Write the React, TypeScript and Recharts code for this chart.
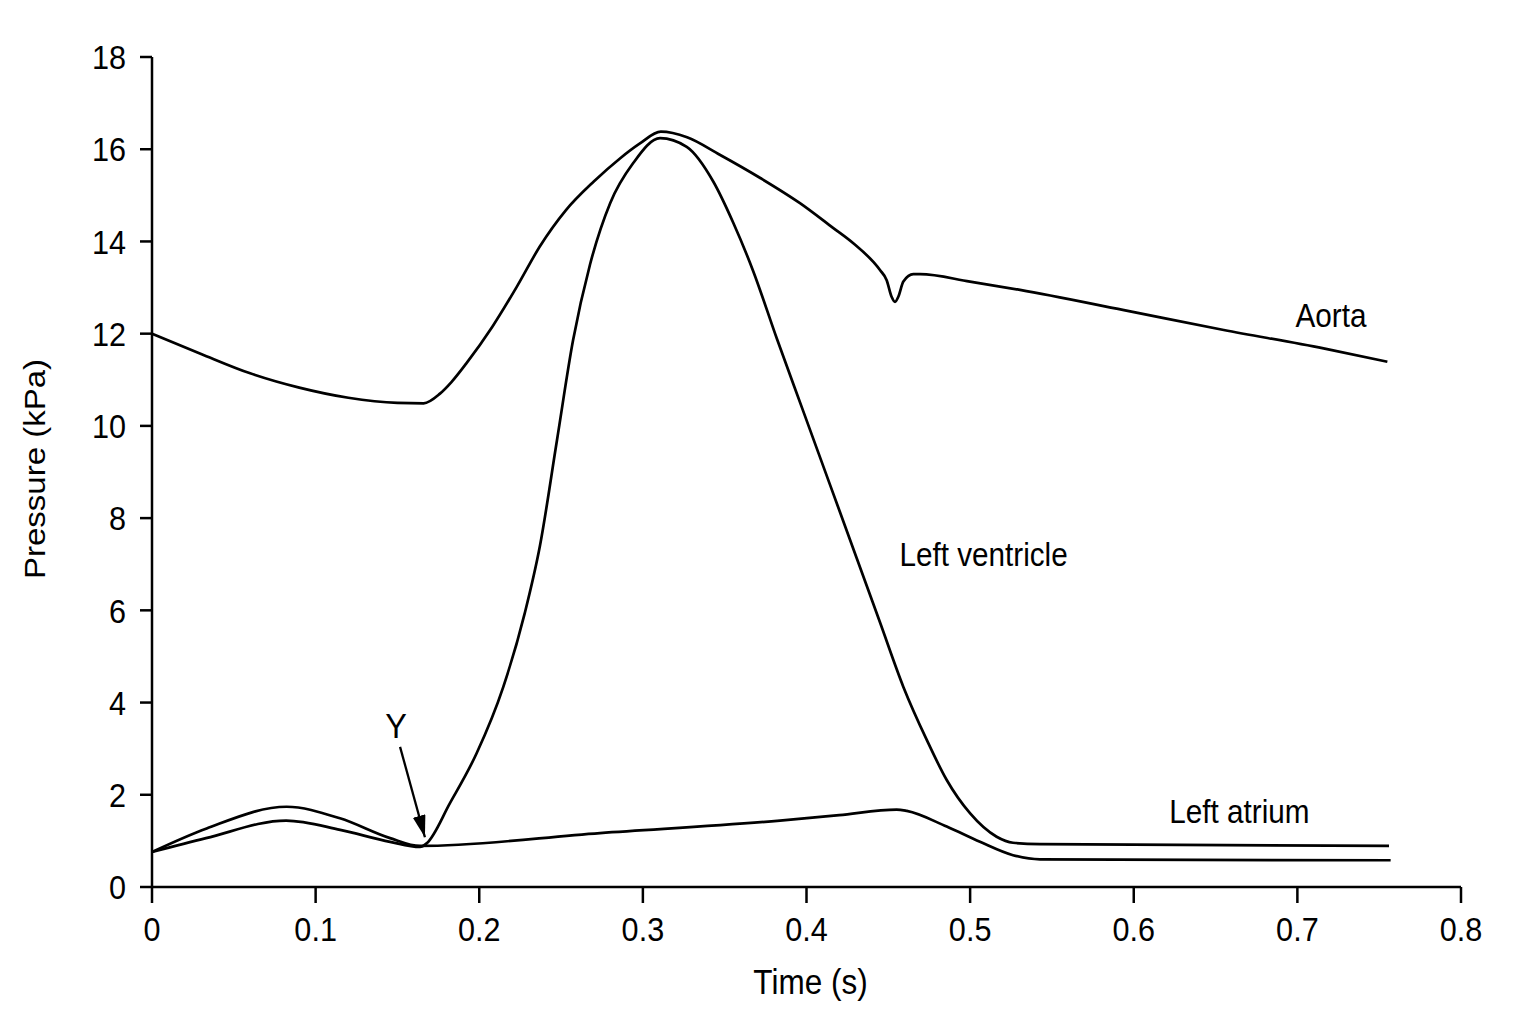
import React from "react";
import { LineChart, Line, XAxis, YAxis, ReferenceDot } from "recharts";

// ---- data (time in s, pressure in kPa) ----
const aortaTime = [0, 0.03, 0.06, 0.09, 0.12, 0.15, 0.166, 0.176, 0.183, 0.192, 0.208, 0.223, 0.237, 0.253, 0.27, 0.286, 0.298, 0.311, 0.327, 0.347, 0.372, 0.396, 0.416, 0.4286, 0.4449, 0.449, 0.452, 0.4541, 0.4561, 0.4592, 0.4653, 0.4694, 0.4999, 0.5305, 0.594, 0.655, 0.716, 0.755];
const aortaPressure = [12.0, 11.56, 11.14, 10.83, 10.61, 10.5, 10.49, 10.7, 10.95, 11.35, 12.15, 13.02, 13.89, 14.68, 15.3, 15.8, 16.12, 16.38, 16.26, 15.88, 15.37, 14.83, 14.3, 13.96, 13.38, 13.16, 12.8, 12.69, 12.8, 13.13, 13.29, 13.29, 13.13, 12.95, 12.51, 12.08, 11.68, 11.39];

const ventricleTime = [0, 0.033, 0.082, 0.115, 0.1455, 0.1638, 0.1679, 0.1821, 0.1984, 0.2147, 0.2279, 0.2371, 0.2475, 0.2573, 0.2677, 0.28, 0.2941, 0.3105, 0.3268, 0.343, 0.3553, 0.3675, 0.3818, 0.398, 0.4144, 0.4307, 0.4449, 0.4592, 0.4735, 0.4857, 0.4999, 0.5162, 0.5262, 0.5427, 0.756];
const ventriclePressure = [0.76, 1.06, 1.44, 1.24, 0.98, 0.87, 0.95, 1.82, 2.9, 4.34, 5.95, 7.4, 9.69, 11.85, 13.5, 14.83, 15.7, 16.24, 16.05, 15.3, 14.4, 13.35, 11.9, 10.32, 8.72, 7.13, 5.74, 4.34, 3.19, 2.32, 1.6, 1.09, 0.96, 0.93, 0.89];

const atriumTime = [0, 0.0334, 0.0823, 0.1149, 0.1455, 0.1638, 0.2738, 0.3838, 0.42, 0.4551, 0.4613, 0.4857, 0.506, 0.5262, 0.5427, 0.757];
const atriumPressure = [0.76, 1.27, 1.74, 1.49, 1.06, 0.89, 1.17, 1.44, 1.56, 1.68, 1.65, 1.31, 0.98, 0.69, 0.6, 0.58];

const arrowTime = [0.1516, 0.1668];
const arrowPressure = [3.04, 1.08];

const xTicks = [0, 0.1, 0.2, 0.3, 0.4, 0.5, 0.6, 0.7, 0.8];
const xTickLabels = ["0", "0.1", "0.2", "0.3", "0.4", "0.5", "0.6", "0.7", "0.8"];
const yTicks = [0, 2, 4, 6, 8, 10, 12, 14, 16, 18];
const yTickLabels = ["0", "2", "4", "6", "8", "10", "12", "14", "16", "18"];

const seriesLabels = [
  { text: "Aorta", t: 0.7205, p: 12.38 },
  { text: "Left ventricle", t: 0.5082, p: 7.2 },
  { text: "Left atrium", t: 0.6646, p: 1.63 },
];
const pointLabel = { text: "Y", t: 0.1491, p: 3.51 };

const zip = (ts: number[], ps: number[]) => ts.map((t, i) => ({ t, p: ps[i] }));
const aortaData = zip(aortaTime, aortaPressure);
const ventricleData = zip(ventricleTime, ventriclePressure);
const atriumData = zip(atriumTime, atriumPressure);
const arrowData = zip(arrowTime, arrowPressure);

const FONT = "'Liberation Sans', Arial, Helvetica, sans-serif";
const SQUEEZE = 0.9;

const textShape = (text: string, size: number) => (props: any) => (
  <g transform={`translate(${props.cx} ${props.cy}) scale(${SQUEEZE} 1)`}>
    <text x={0} y={0} textAnchor="middle" dominantBaseline="central" fontSize={size} fontFamily={FONT} fill="#000">
      {text}
    </text>
  </g>
);

const XTick = (props: any) => {
  const { x, y, payload } = props;
  const i = xTicks.indexOf(payload.value);
  return (
    <g transform={`translate(${x} ${y}) scale(${SQUEEZE} 1)`}>
      <text x={0} y={0} dy="0.71em" textAnchor="middle" fontSize={34} fontFamily={FONT} fill="#000">
        {i >= 0 ? xTickLabels[i] : String(payload.value)}
      </text>
    </g>
  );
};

const YTick = (props: any) => {
  const { x, y, payload } = props;
  const i = yTicks.indexOf(payload.value);
  return (
    <g transform={`translate(${x} ${y}) scale(${SQUEEZE} 1)`}>
      <text x={0} y={0} dy="0.36em" textAnchor="end" fontSize={34} fontFamily={FONT} fill="#000">
        {i >= 0 ? yTickLabels[i] : String(payload.value)}
      </text>
    </g>
  );
};

export default function App() {
  return (
    <div style={{ width: 1520, height: 1008, background: "#fff" }}>
      <LineChart width={1520} height={1008} margin={{ top: 49, right: 67, bottom: 29, left: 0 }}>
        <defs>
          <marker
            id="arrowY"
            viewBox="0 0 22 13"
            refX="22"
            refY="6.5"
            markerWidth="22"
            markerHeight="13"
            markerUnits="userSpaceOnUse"
            orient="auto"
          >
            <path d="M0,0 L22,6.5 L0,13 z" fill="#000" />
          </marker>
        </defs>
        <XAxis
          type="number"
          dataKey="t"
          domain={[0, 0.8]}
          ticks={xTicks}
          height={100}
          axisLine={{ stroke: "#000", strokeWidth: 2.5 }}
          tickLine={{ stroke: "#000", strokeWidth: 2.5 }}
          tickSize={16}
          tickMargin={14}
          tick={XTick}
          label={{
            content: (props: any) => {
              const vb = props.viewBox;
              const cx = vb.x + vb.width / 2 + 4;
              const cy = vb.y + 95;
              return (
                <g transform={`translate(${cx} ${cy}) scale(${SQUEEZE} 1)`}>
                  <text x={0} y={0} textAnchor="middle" dominantBaseline="central" fontSize={35} fontFamily={FONT} fill="#000">
                    Time (s)
                  </text>
                </g>
              );
            },
          }}
        />
        <YAxis
          type="number"
          dataKey="p"
          domain={[0, 18]}
          ticks={yTicks}
          width={144}
          axisLine={{ stroke: "#000", strokeWidth: 2.5 }}
          tickLine={{ stroke: "#000", strokeWidth: 2.5 }}
          tickSize={12}
          tickMargin={14}
          tick={YTick}
          label={{
            content: (props: any) => {
              const vb = props.viewBox;
              const cx = vb.x + 27;
              const cy = vb.y + vb.height / 2 - 3;
              return (
                <g transform={`translate(${cx} ${cy}) rotate(-90) scale(1 ${SQUEEZE})`}>
                  <text x={0} y={0} textAnchor="middle" dominantBaseline="central" fontSize={33} fontFamily={FONT} fill="#000">
                    Pressure (kPa)
                  </text>
                </g>
              );
            },
          }}
        />
        <Line data={aortaData} dataKey="p" type="monotone" stroke="#000" strokeWidth={2.7} dot={false} activeDot={false} isAnimationActive={false} />
        <Line data={ventricleData} dataKey="p" type="monotone" stroke="#000" strokeWidth={2.7} dot={false} activeDot={false} isAnimationActive={false} />
        <Line data={atriumData} dataKey="p" type="monotone" stroke="#000" strokeWidth={2.7} dot={false} activeDot={false} isAnimationActive={false} />
        <Line data={arrowData} dataKey="p" type="linear" stroke="#000" strokeWidth={2.3} dot={false} activeDot={false} isAnimationActive={false} markerEnd="url(#arrowY)" />
        {seriesLabels.map((l) => (
          <ReferenceDot key={l.text} x={l.t} y={l.p} r={0} shape={textShape(l.text, 33)} />
        ))}
        <ReferenceDot x={pointLabel.t} y={pointLabel.p} r={0} shape={textShape(pointLabel.text, 36)} />
      </LineChart>
    </div>
  );
}
